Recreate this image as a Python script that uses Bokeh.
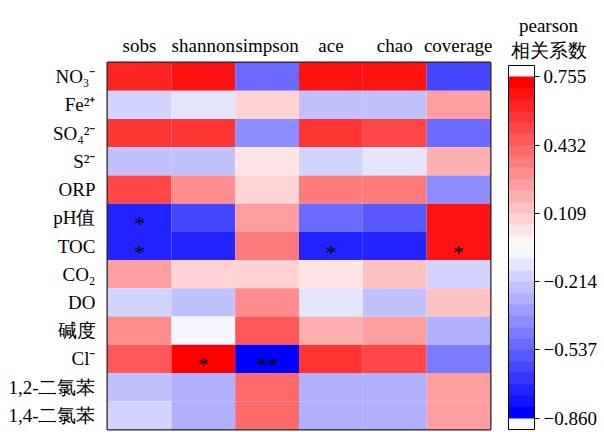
from bokeh.plotting import figure
from bokeh.layouts import row
from bokeh.models import (ColumnDataSource, LinearColorMapper, ColorBar, FixedTicker,
                          FactorRange, Range1d, CustomJSTickFormatter, AllLabels, Title)
from bokeh.transform import transform
from bokeh.core.properties import value
from bokeh.embed import file_html
from bokeh.resources import INLINE

# ---- data ----
indices = ["sobs", "shannon", "simpson", "ace", "chao", "coverage"]
factors = ["NO₃⁻", "Fe²⁺", "SO₄²⁻", "S²⁻", "ORP", "pH值", "TOC", "CO₂", "DO",
           "碱度", "Cl⁻", "1,2-二氯苯", "1,4-二氯苯"]
r_sobs     = [0.61, -0.18, 0.58, -0.24, 0.49, -0.70, -0.70, 0.25, -0.18, 0.31, 0.47, -0.24, -0.18]
r_shannon  = [0.68, -0.15, 0.58, -0.24, 0.31, -0.64, -0.70, 0.09, -0.24, -0.08, 0.755, -0.31, -0.31]
r_simpson  = [-0.53, 0.09, -0.42, 0.04, 0.09, 0.25, 0.36, 0.09, 0.31, 0.47, -0.86, 0.42, 0.42]
r_ace      = [0.69, -0.24, 0.58, -0.18, 0.36, -0.53, -0.70, 0.04, -0.15, 0.20, 0.58, -0.31, -0.31]
r_chao     = [0.69, -0.24, 0.53, -0.15, 0.36, -0.58, -0.70, 0.14, -0.24, 0.26, 0.53, -0.31, -0.31]
r_coverage = [-0.64, 0.25, -0.53, 0.20, -0.42, 0.65, 0.68, -0.18, 0.14, -0.31, -0.46, 0.25, 0.25]
sig_factor = ["pH值", "TOC", "TOC", "TOC", "Cl⁻", "Cl⁻"]
sig_index  = ["sobs", "sobs", "ace", "coverage", "shannon", "simpson"]
sig_mark   = ["*", "*", "*", "*", "*", "**"]
cbar_ticks = [0.755, 0.432, 0.109, -0.214, -0.537, -0.860]
cbar_title = ["pearson", "相关系数"]
r_min, r_max = -0.860, 0.755

columns = [r_sobs, r_shannon, r_simpson, r_ace, r_chao, r_coverage]
xs, ys, vs = [], [], []
for name, col in zip(indices, columns):
    for f, v in zip(factors, col):
        xs.append(name); ys.append(f); vs.append(v)
src = ColumnDataSource(dict(x=xs, y=ys, v=vs))
sig_src = ColumnDataSource(dict(x=sig_index, y=sig_factor, t=sig_mark))

# ---- palette: blue - white - red, 30 steps ----
N = 30
pal = []
for i in range(N):
    t = i / (N - 1)
    if t < 0.5:
        g = int(round(255 * 2 * t)); pal.append("#%02x%02x%02x" % (g, g, 255))
    else:
        g = int(round(255 * 2 * (1 - t))); pal.append("#%02x%02x%02x" % (255, g, g))
cell_mapper = LinearColorMapper(palette=pal, low=r_min, high=r_max)
d = (r_max - r_min) / N
bar_mapper = LinearColorMapper(palette=["#ffffff"] + pal + ["#ffffff"],
                               low=r_min - d, high=r_max + d)

FONT = "Liberation Serif"

# ---- heatmap ----
p = figure(width=492, height=432, output_backend="svg", toolbar_location=None,
           x_range=FactorRange(*indices), y_range=FactorRange(*reversed(factors)),
           x_axis_location="above",
           min_border_left=107, min_border_top=62, min_border_right=2, min_border_bottom=3)
p.rect(x="x", y="y", width=1, height=1, source=src,
       fill_color=transform("v", cell_mapper), line_color=None)
p.text(x="x", y="y", text="t", source=sig_src, text_align="center", text_baseline="middle",
       y_offset=6, text_font=value(FONT), text_font_size="22px", text_color="black")

p.grid.grid_line_color = None
p.outline_line_color = "#222222"
p.outline_line_width = 2
for ax in (p.xaxis[0], p.yaxis[0]):
    ax.axis_line_color = None
    ax.major_tick_line_color = None
    ax.minor_tick_line_color = None
    ax.major_label_text_font = FONT
    ax.major_label_text_font_size = "19px"
    ax.major_label_text_color = "black"
p.xaxis.major_label_standoff = 1
p.yaxis.major_label_standoff = 6
p.x_range.range_padding = 0
p.y_range.range_padding = 0

# ---- colour bar panel ----
q = figure(width=112, height=432, output_backend="svg", toolbar_location=None,
           x_range=Range1d(0, 1), y_range=Range1d(0, 1),
           min_border_left=0, min_border_right=0, min_border_bottom=3, min_border_top=62,
           outline_line_color=None)
q.axis.visible = False
q.grid.grid_line_color = None
for txt, so in ((cbar_title[1], 4), (cbar_title[0], 0)):
    q.add_layout(Title(text=txt, align="center", offset=-17, standoff=so,
                       text_font=FONT, text_font_size="19px", text_font_style="normal",
                       text_color="black"), "above")

cb = ColorBar(color_mapper=bar_mapper, ticker=FixedTicker(ticks=cbar_ticks),
              formatter=CustomJSTickFormatter(code="return tick.toFixed(3).replace('-', '\u2212');"),
              major_label_policy=AllLabels(),
              width=26, height=364, location=(16, 0), padding=0, margin=0,
              bar_line_color="black", bar_line_width=1,
              major_tick_line_color="black", major_tick_in=0, major_tick_out=5,
              minor_tick_line_color=None, label_standoff=4,
              major_label_text_font=FONT, major_label_text_font_size="19px",
              major_label_text_color="black",
              border_line_color=None, background_fill_color=None)
q.add_layout(cb, "center")

layout = row(p, q, spacing=0)
open("out.html", "w").write(file_html(layout, INLINE))
